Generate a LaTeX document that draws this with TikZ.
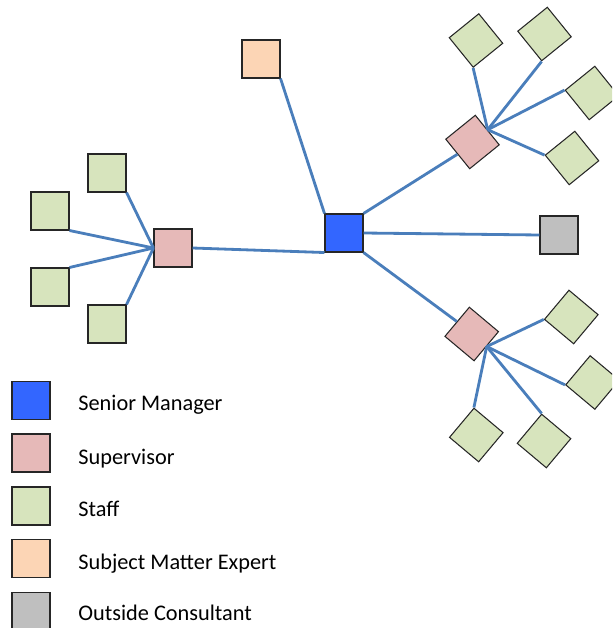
\documentclass[tikz,border=0pt]{standalone}
\usepackage{fontspec}
\setmainfont{Carlito}
\usetikzlibrary{positioning}
\definecolor{mgrblue}{HTML}{3366FF}
\definecolor{suppink}{HTML}{E6B9B8}
\definecolor{staffgreen}{HTML}{D7E4BD}
\definecolor{smeorange}{HTML}{FCD5B5}
\definecolor{consgray}{HTML}{BFBFBF}
\definecolor{linkblue}{HTML}{4A7EBB}
\tikzset{
	box/.style={draw=black!85, line width=0.6pt, minimum size=0.76cm, inner sep=0pt}, % every square in the chart
	manager/.style={box, fill=mgrblue},
	supervisor/.style={box, fill=suppink},
	staff/.style={box, fill=staffgreen},
	expert/.style={box, fill=smeorange},
	consultant/.style={box, fill=consgray},
	link/.style={draw=linkblue, line width=1.6pt}, % the connecting lines
	keytext/.style={anchor=base west, inner sep=0pt, font=\fontsize{12.7}{15}\selectfont},
}
\begin{document}
\begin{tikzpicture}[x=0.02cm, y=-0.02cm]
	\clip (0,0) rectangle (612,628);
	% centre of the chart
	\node[manager] (mgr) at (344,233) {};
	\node[expert] (sme) at (261,59) {};
	\node[consultant] (cons) at (559,235) {};
	% left team
	\node[supervisor] (supL) at (173,248) {};
	\node[staff] (stL1) at (107,173) {};
	\node[staff] (stL2) at (50,211) {};
	\node[staff] (stL3) at (50,287) {};
	\node[staff] (stL4) at (107,324) {};
	% upper right team
	\node[supervisor, rotate=39] (supTR) at (472.5,142) {};
	\node[staff, rotate=39] (stTR1) at (476,40.5) {};
	\node[staff, rotate=39] (stTR2) at (544.5,34) {};
	\node[staff, rotate=39] (stTR3) at (592,93) {};
	\node[staff, rotate=39] (stTR4) at (572,158) {};
	% lower right team
	\node[supervisor, rotate=-40] (supBR) at (471.7,334) {};
	\node[staff, rotate=-40] (stBR1) at (571.3,317) {};
	\node[staff, rotate=-40] (stBR2) at (592.5,382.5) {};
	\node[staff, rotate=-40] (stBR3) at (476.3,435) {};
	\node[staff, rotate=-40] (stBR4) at (544,441) {};
	\draw[link]	(supL.west) edge (stL1.south east)
				(supL.west) edge (stL2.south east)
				(supL.west) edge (stL3.north east)
				(supL.west) edge (stL4.north east)
				(supL.east) edge (mgr.south west)
				(sme.south east) edge (mgr.north west)
				(mgr.north east) edge (supTR.west)
				(mgr.east) edge (cons.west)
				(mgr.south east) edge (supBR.west)
				(supTR.east) edge (stTR1.south west)
				(supTR.east) edge (stTR2.south west)
				(supTR.east) edge (stTR3.north west)
				(supTR.east) edge (stTR4.north west)
				(supBR.east) edge (stBR1.south west)
				(supBR.east) edge (stBR2.south west)
				(supBR.east) edge (stBR3.north west)
				(supBR.east) edge (stBR4.north west);
	% legend
	\node[manager] (k1) at (31,400.5) {};
	\node[supervisor] (k2) at (31,453) {};
	\node[staff] (k3) at (31,506) {};
	\node[expert] (k4) at (31,558.5) {};
	\node[consultant] (k5) at (31,611.5) {};
	\node[keytext] (t1) at (78,410.7) {Senior Manager};
	\node[keytext] (t2) at (78,464) {Supervisor};
	\node[keytext] (t3) at (78,516.7) {Staff};
	\node[keytext] (t4) at (78,569) {Subject Matter Expert};
	\node[keytext] (t5) at (78,620.7) {Outside Consultant};
\end{tikzpicture}
\end{document}
